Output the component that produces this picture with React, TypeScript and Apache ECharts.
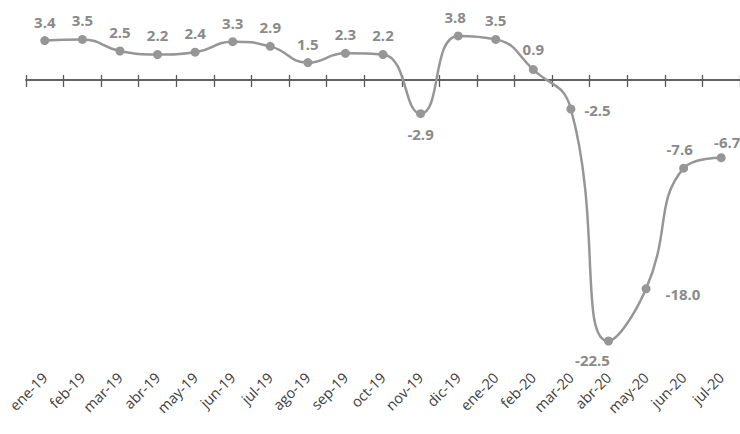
import React, { useEffect, useRef } from "react";
import * as echarts from "echarts";

const categories = ["ene-19","feb-19","mar-19","abr-19","may-19","jun-19","jul-19","ago-19","sep-19","oct-19","nov-19","dic-19","ene-20","feb-20","mar-20","abr-20","may-20","jun-20","jul-20"];
const values = [3.4,3.5,2.5,2.2,2.4,3.3,2.9,1.5,2.3,2.2,-2.9,3.8,3.5,0.9,-2.5,-22.5,-18.0,-7.6,-6.7];
const labelPositions: Record<number, any> = {
  10: { position: "bottom", distance: 8 },
  11: { position: "top", offset: [-3, 0] },
  13: { position: "top", offset: [0, -2] },
  14: { position: "right", offset: [2, 1] },
  15: { position: "bottom", offset: [-16, 0] },
  16: { position: "right", offset: [8, 5] },
  17: { position: "top", offset: [-4, 0] },
  18: { position: "top", offset: [6, 3] },
};

export default function App() {
  const ref = useRef<HTMLDivElement>(null);
  useEffect(() => {
    if (!ref.current) return;
    const chart = echarts.init(ref.current, null, { renderer: "svg" });
    const gray = "#969696";
    const yBase = { type: "value", min: -25, max: 5, interval: 5, show: false, splitLine: { show: false } };
    chart.setOption({
      animation: false,
      grid: { left: 26, right: 0, top: 22, bottom: 64, containLabel: false, outerBoundsMode: "none" },
      xAxis: [
        {
          type: "category", data: categories, position: "bottom",
          axisLine: { onZero: true, onZeroAxisIndex: 0, lineStyle: { color: "#595959", width: 1.5 } },
          axisTick: { show: true, interval: 0, inside: false, length: 7, lineStyle: { color: "#595959", width: 1.3 } },
          axisLabel: { show: false, interval: 0 },
        },
        {
          type: "category", data: categories, position: "top",
          axisLine: { onZero: true, onZeroAxisIndex: 1, show: true, lineStyle: { color: "#595959", width: 1.5 } },
          axisTick: { show: true, interval: 0, inside: false, length: 5, lineStyle: { color: "#595959", width: 1.3 } },
          axisLabel: { show: false, interval: 0 },
        },
        {
          type: "category", data: categories, position: "bottom",
          axisLine: { onZero: false, show: false },
          axisTick: { show: false },
          axisLabel: { show: true, rotate: 45, margin: 5, color: "#404040", fontSize: 14.5, fontFamily: "Open Sans", interval: 0 },
        },
      ],
      yAxis: [yBase, { ...yBase }],
      series: [
        {
          type: "line",
          xAxisIndex: 0,
          yAxisIndex: 0,
          smooth: 0.5,
          data: values.map((v, i) => ({ value: v, label: labelPositions[i] || {} })),
          symbol: "circle",
          symbolSize: 9,
          itemStyle: { color: gray },
          lineStyle: { color: gray, width: 2.5 },
          label: {
            show: true, position: "top", distance: 7, color: "#8a8a8a", fontWeight: "bold", fontSize: 15,
            fontFamily: "Open Sans",
            formatter: (p: any) => Number(p.value).toFixed(1),
          },
        },
      ],
    });
    return () => chart.dispose();
  }, []);
  return <div ref={ref} style={{ width: 740, height: 434, position: "absolute", left: 0, top: 0 }} />;
}
